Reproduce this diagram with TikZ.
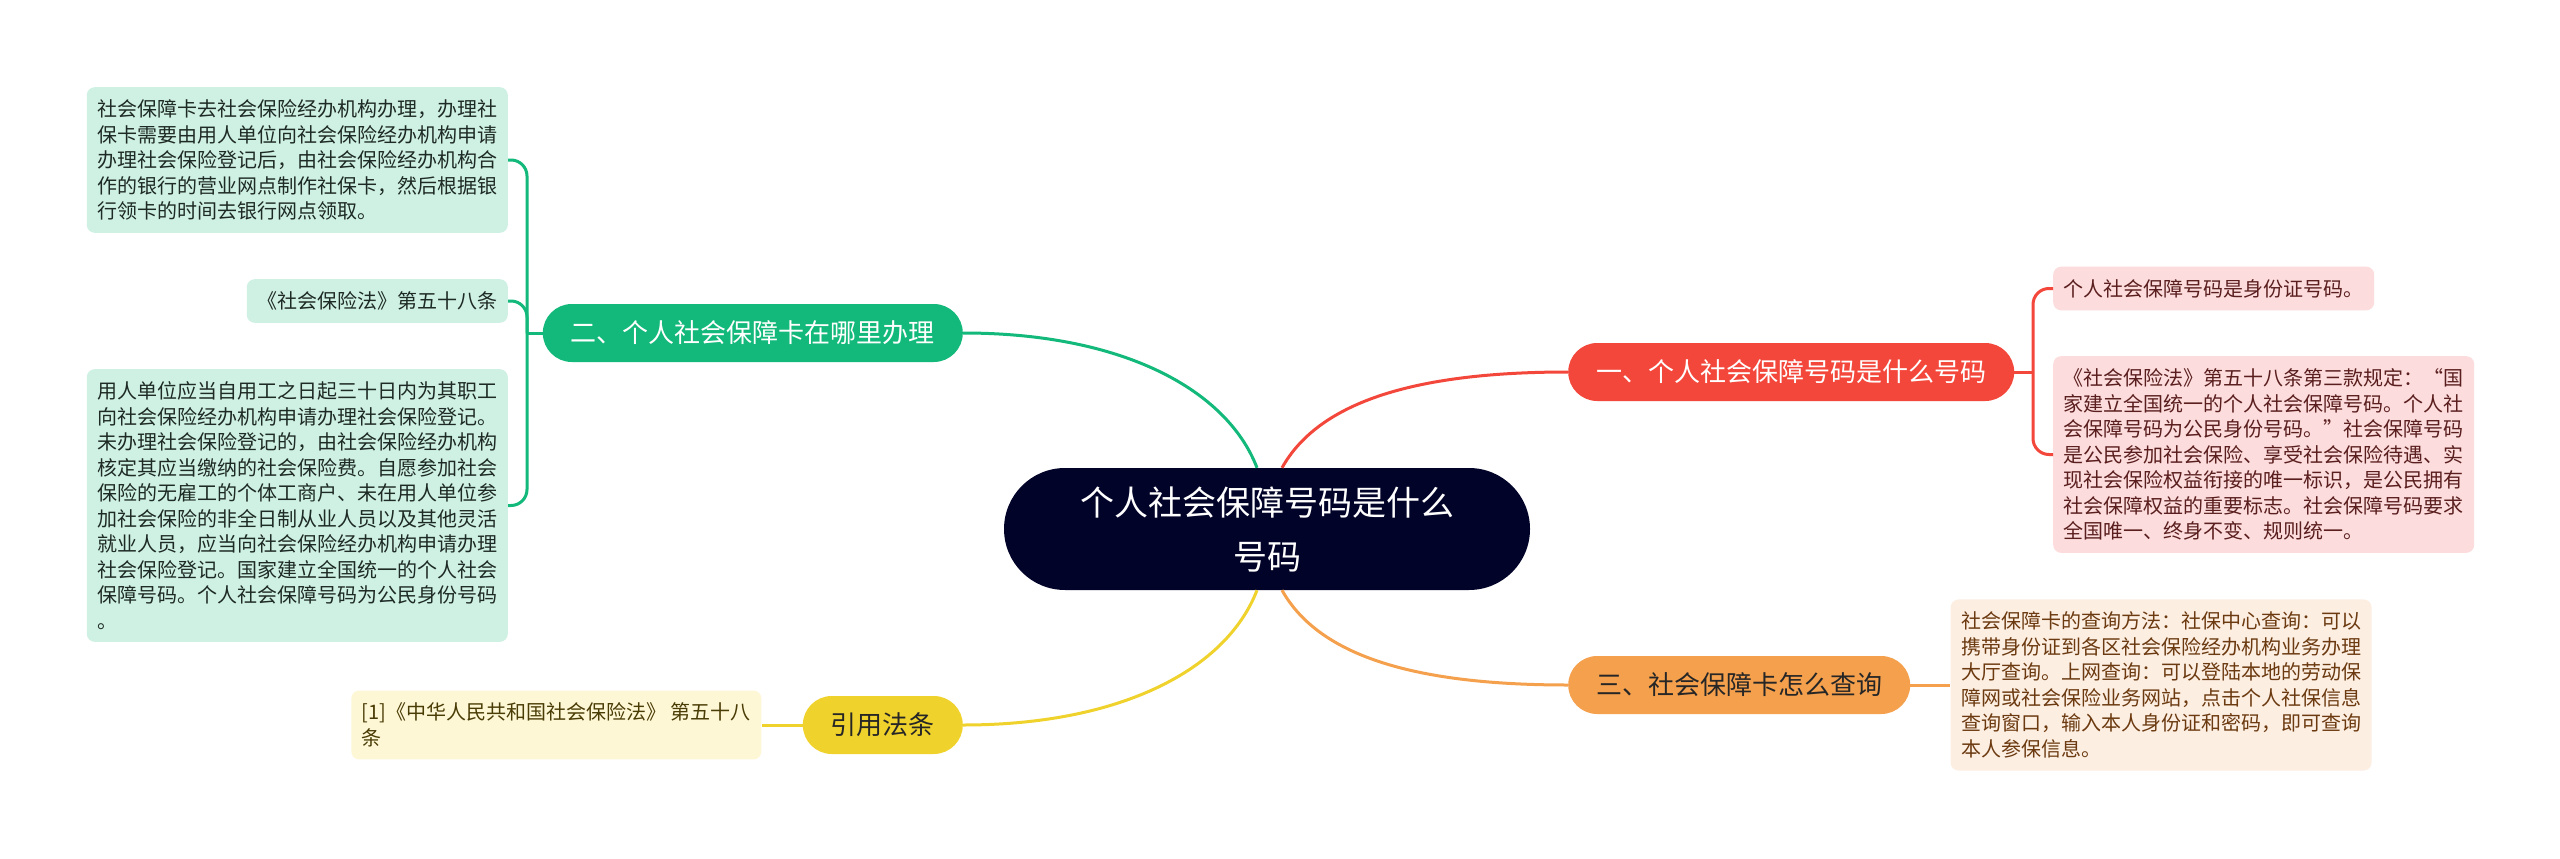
\documentclass[tikz,border=0pt]{standalone}
\usepackage{fontspec}
\setmainfont{Noto Sans CJK SC}
\usetikzlibrary{positioning}
\definecolor{hubnavy}{HTML}{020328}
\definecolor{redmain}{HTML}{F4473B}
\definecolor{redleaf}{HTML}{FCDCDC}
\definecolor{redtext}{HTML}{5A1E1E}
\definecolor{greenmain}{HTML}{12B97A}
\definecolor{greenleaf}{HTML}{CFF1E4}
\definecolor{greentext}{HTML}{1E2A25}
\definecolor{orangemain}{HTML}{F4A04D}
\definecolor{orangeleaf}{HTML}{FDEEE2}
\definecolor{orangetext}{HTML}{6B3A10}
\definecolor{yellowmain}{HTML}{F0D22C}
\definecolor{yellowleaf}{HTML}{FEF7D6}
\definecolor{yellowtext}{HTML}{4A3C05}

\begin{document}
\begin{tikzpicture}[x=1pt,y=-1pt,
  hub/.style={rectangle,rounded corners=61pt,fill=hubnavy,text=white,minimum width=526pt,minimum height=122pt,align=center,font=\fontsize{34}{54}\selectfont},
  branch/.style={rectangle,rounded corners=29pt,minimum height=58pt,inner xsep=28pt,inner ysep=0pt,font=\fontsize{26}{30}\selectfont},
  leafbox/.style={rectangle,rounded corners=8pt,inner xsep=10.5pt,inner ysep=12.5pt,align=left,font=\fontsize{20}{25.5}\selectfont},
  link/.style={line width=3pt}]
\fill[white] (0,0) rectangle (2560,859);
\useasboundingbox (0,0) rectangle (2560,859);

% centre
\node[hub] (c) at (1267,529) {个人社会保障号码是什么\\号码};

% branches
\node[branch,fill=redmain,text=white,anchor=west] (rb) at (1568,372) {一、个人社会保障号码是什么号码};
\node[branch,fill=greenmain,text=white,anchor=east] (gb) at (963,333) {二、个人社会保障卡在哪里办理};
\node[branch,fill=orangemain,text=black!85,anchor=west] (ob) at (1568,685) {三、社会保障卡怎么查询};
\node[branch,fill=yellowmain,text=black!85,anchor=east] (yb) at (963,725) {引用法条};

% leaves
\node[leafbox,fill=redleaf,text=redtext,anchor=west] (r1) at (2053,288.5) {个人社会保障号码是身份证号码。};
\node[leafbox,fill=redleaf,text=redtext,anchor=west] (r2) at (2053,454.5) {《社会保险法》第五十八条第三款规定：“国\\家建立全国统一的个人社会保障号码。个人社\\会保障号码为公民身份号码。”社会保障号码\\是公民参加社会保险、享受社会保险待遇、实\\现社会保险权益衔接的唯一标识，是公民拥有\\社会保障权益的重要标志。社会保障号码要求\\全国唯一、终身不变、规则统一。};
\node[leafbox,fill=greenleaf,text=greentext,anchor=east] (g1) at (508,160) {社会保障卡去社会保险经办机构办理，办理社\\保卡需要由用人单位向社会保险经办机构申请\\办理社会保险登记后，由社会保险经办机构合\\作的银行的营业网点制作社保卡，然后根据银\\行领卡的时间去银行网点领取。};
\node[leafbox,fill=greenleaf,text=greentext,anchor=east] (g2) at (508,301) {《社会保险法》第五十八条};
\node[leafbox,fill=greenleaf,text=greentext,anchor=east] (g3) at (508,505.5) {用人单位应当自用工之日起三十日内为其职工\\向社会保险经办机构申请办理社会保险登记。\\未办理社会保险登记的，由社会保险经办机构\\核定其应当缴纳的社会保险费。自愿参加社会\\保险的无雇工的个体工商户、未在用人单位参\\加社会保险的非全日制从业人员以及其他灵活\\就业人员，应当向社会保险经办机构申请办理\\社会保险登记。国家建立全国统一的个人社会\\保障号码。个人社会保障号码为公民身份号码\\。};
\node[leafbox,fill=orangeleaf,text=orangetext,right=40pt of ob] (o1) {社会保障卡的查询方法：社保中心查询：可以\\携带身份证到各区社会保险经办机构业务办理\\大厅查询。上网查询：可以登陆本地的劳动保\\障网或社会保险业务网站，点击个人社保信息\\查询窗口，输入本人身份证和密码，即可查询\\本人参保信息。};
\node[leafbox,fill=yellowleaf,text=yellowtext,left=41pt of yb] (y1) {[1]《中华人民共和国社会保险法》 第五十八\\条};

% centre to branches
\draw[link,redmain] ([xshift=15pt]c.north) .. controls +(38,-68) and +(-148,0) .. (rb.west);
\draw[link,greenmain] ([xshift=-10pt]c.north) .. controls +(-30,-78) and +(160,0) .. (gb.east);
\draw[link,orangemain] ([xshift=15pt]c.south) .. controls +(38,68) and +(-148,0) .. (ob.west);
\draw[link,yellowmain] ([xshift=-10pt]c.south) .. controls +(-30,78) and +(160,0) .. (yb.east);

% branches to leaves
\coordinate (rj) at (2033,372);
\draw[link,redmain] (rb.east) -- (rj);
\draw[link,redmain,rounded corners=16pt] (rj) |- (r1.west);
\draw[link,redmain,rounded corners=16pt] (rj) |- (r2.west);
\coordinate (gj) at (527,333);
\draw[link,greenmain] (gb.west) -- (gj);
\draw[link,greenmain,rounded corners=16pt] (gj) |- (g1.east);
\draw[link,greenmain,rounded corners=16pt] (gj) |- (g2.east);
\draw[link,greenmain,rounded corners=16pt] (gj) |- (g3.east);
\draw[link,orangemain] (ob.east) -- (o1.west);
\draw[link,yellowmain] (yb.west) -- (y1.east);

\end{tikzpicture}
\end{document}
